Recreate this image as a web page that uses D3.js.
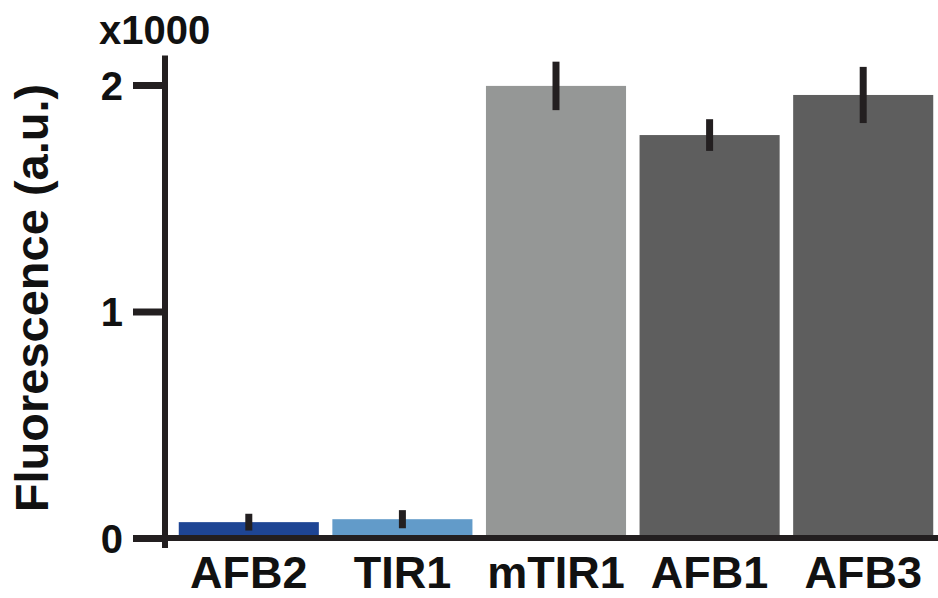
<!DOCTYPE html>
<html>
<head>
<meta charset="utf-8">
<script src="https://cdn.jsdelivr.net/npm/d3@7"></script>
<style>
  body { margin: 0; background: #fff; }
  text { font-family: "Liberation Sans", Arial, Helvetica, sans-serif; font-weight: bold; fill: #111; }
</style>
</head>
<body>
<div id="viz"></div>
<script>
// values in thousands of a.u.
const categories = ['AFB2', 'TIR1', 'mTIR1', 'AFB1', 'AFB3'];
const means = [0.07, 0.083, 1.996, 1.779, 1.956];
const errors = [0.037, 0.04, 0.107, 0.07, 0.124];
const barColors = ['#1e4594', '#629bc9', '#959796', '#5e5e5e', '#5e5e5e'];
const yTicks = [0, 1, 2];

const width = 938, height = 598;
const ink = '#231f20';

const svg = d3.select('#viz')
  .append('svg')
  .attr('width', width)
  .attr('height', height);

// scales
const x = d3.scaleBand()
  .domain(categories)
  .range([172, 940])
  .paddingInner(0.088)
  .paddingOuter(0.044);

const y = d3.scaleLinear()
  .domain([0, 2])
  .range([538, 85]);

// bars
svg.selectAll('rect.bar')
  .data(categories)
  .enter()
  .append('rect')
  .attr('class', 'bar')
  .attr('x', d => x(d))
  .attr('width', x.bandwidth())
  .attr('y', (d, i) => y(means[i]))
  .attr('height', (d, i) => y(0) - y(means[i]))
  .attr('fill', (d, i) => barColors[i]);

// error bars
svg.selectAll('line.err')
  .data(categories)
  .enter()
  .append('line')
  .attr('class', 'err')
  .attr('x1', d => x(d) + x.bandwidth() / 2)
  .attr('x2', d => x(d) + x.bandwidth() / 2)
  .attr('y1', (d, i) => y(means[i] + errors[i]))
  .attr('y2', (d, i) => y(means[i] - errors[i]))
  .attr('stroke', ink)
  .attr('stroke-width', 7);

// y axis
const yAxis = d3.axisLeft(y)
  .tickValues(yTicks)
  .tickFormat(d3.format('d'))
  .tickSize(32)
  .tickPadding(10)
  .tickSizeOuter(0);

const gy = svg.append('g')
  .attr('transform', 'translate(165,0)')
  .call(yAxis);
gy.select('.domain').remove();
gy.selectAll('.tick line').attr('stroke', ink).attr('stroke-width', 7);
gy.selectAll('.tick text')
  .attr('font-size', 40)
  .attr('dy', '0.36em')
  .attr('fill', '#111');

// axis lines
svg.append('line')
  .attr('x1', 165).attr('x2', 165)
  .attr('y1', y(2.13)).attr('y2', y(0) + 10)
  .attr('stroke', ink).attr('stroke-width', 6);

svg.append('line')
  .attr('x1', 133).attr('x2', width)
  .attr('y1', y(0)).attr('y2', y(0))
  .attr('stroke', ink).attr('stroke-width', 6);

// x axis labels
const xAxis = d3.axisBottom(x).tickSize(0).tickPadding(0);
const gx = svg.append('g')
  .attr('transform', `translate(0,${y(0)})`)
  .call(xAxis);
gx.select('.domain').remove();
gx.selectAll('.tick text')
  .attr('font-size', 45)
  .attr('y', 50)
  .attr('dy', null)
  .attr('fill', '#111');

// multiplier
svg.append('text')
  .attr('x', 99)
  .attr('y', 44)
  .attr('font-size', 40)
  .text('x1000');

// y label
svg.append('text')
  .attr('transform', 'translate(48,298) rotate(-90)')
  .attr('text-anchor', 'middle')
  .attr('font-size', 47)
  .text('Fluorescence (a.u.)');
</script>
</body>
</html>
